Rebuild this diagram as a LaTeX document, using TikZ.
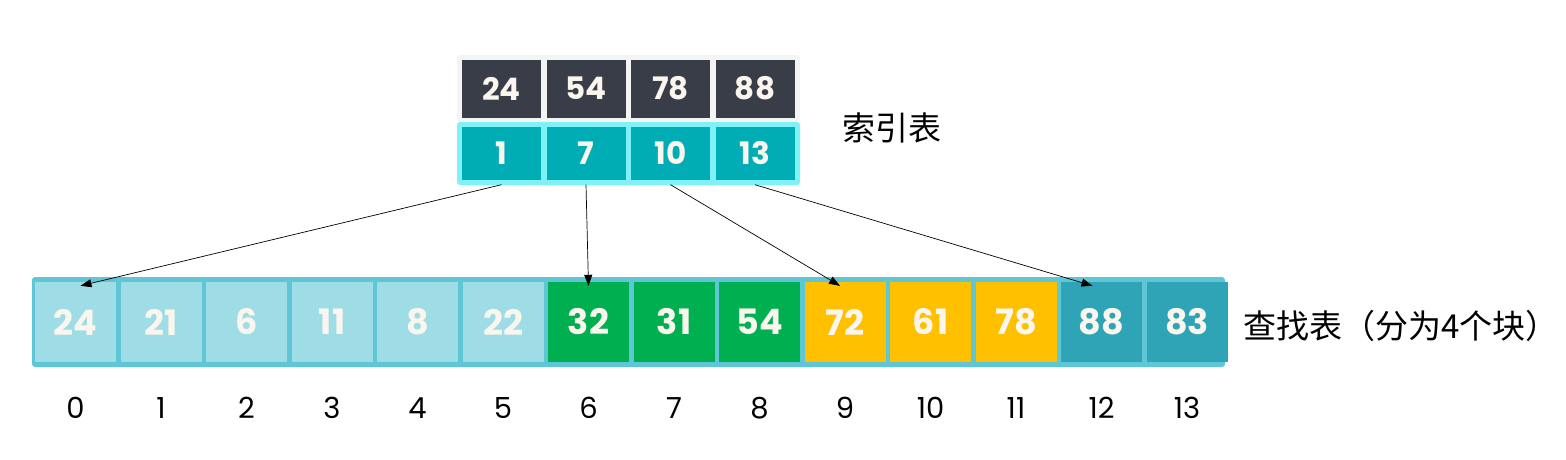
\documentclass[tikz,border=0pt]{standalone}
\usepackage{fontspec}
\setmainfont{Poppins}
\newfontfamily\cjk{Noto Sans CJK SC}
\usetikzlibrary{arrows.meta}
\definecolor{lightcell}{HTML}{9EDDE6}
\definecolor{frameblue}{HTML}{5FC6D5}
\definecolor{greencell}{HTML}{00B050}
\definecolor{yellowcell}{HTML}{FFC000}
\definecolor{tealcell}{HTML}{2EA4B6}
\definecolor{darkcell}{HTML}{393D47}
\definecolor{cyancell}{HTML}{00ADB5}
\definecolor{cyanframe}{HTML}{7EF2F7}
\definecolor{grayframe}{HTML}{F4F4F4}
\definecolor{numtext}{HTML}{FAF6EE}
\tikzset{
  cellbox/.style={minimum width=81pt, minimum height=80pt, inner sep=0pt,
    text=numtext, font=\bfseries\fontsize{35}{37}\selectfont},
  keybox/.style={fill=darkcell, minimum width=79pt, minimum height=58pt, inner sep=0pt,
    text=numtext, font=\bfseries\fontsize{31}{33}\selectfont},
  idxbox/.style={fill=cyancell, minimum width=79pt, minimum height=53pt, inner sep=0pt,
    text=numtext, font=\bfseries\fontsize{31}{33}\selectfont},
  poslabel/.style={font=\fontsize{29}{31}\selectfont, inner sep=0pt},
  cjklabel/.style={font=\cjk\fontsize{33}{35}\selectfont, inner sep=0pt, anchor=west},
  link/.style={-{Triangle[length=11pt,width=8pt]}, line width=0.7pt, black}
}
\begin{document}
\begin{tikzpicture}[x=1pt,y=-1pt]
\useasboundingbox (0,0) rectangle (1566,459);
% frames
\fill[frameblue, rounded corners=3pt] (32,277) rectangle (1225,367);
\fill[grayframe, rounded corners=3pt] (457,55) rectangle (800,122);
\fill[cyanframe, rounded corners=3pt] (457,122) rectangle (800,185);
% bottom cells
\foreach \v [count=\i from 0] in {24,21,6,11,8,22}
  \node[cellbox, fill=lightcell] (c\i) at (75.5+85.5*\i,322) {\v};
\foreach \v [count=\i from 6] in {32,31,54}
  \node[cellbox, fill=greencell] (c\i) at (75.5+85.5*\i,322) {\v};
\foreach \v [count=\i from 9] in {72,61,78}
  \node[cellbox, fill=yellowcell] (c\i) at (75.5+85.5*\i,322) {\v};
\foreach \v [count=\i from 12] in {88,83}
  \node[cellbox, fill=tealcell] (c\i) at (75.5+85.5*\i,322) {\v};
% position labels
\foreach \i in {0,...,13}
  \node[poslabel] (p\i) at (75.5+85.5*\i,408) {\i};
% index table
\foreach \v [count=\j from 0] in {24,54,78,88}
  \node[keybox] (k\j) at (501.5+84.5*\j,88.5) {\v};
\foreach \v [count=\j from 0] in {1,7,10,13}
  \node[idxbox] (i\j) at (501.5+84.5*\j,153) {\v};
% labels
\node[cjklabel] (lidx) at (842,128) {索引表};
\node[cjklabel] (lsrch) at (1243,326) {查找表（分为4个块）};
% links
\draw[link] ([yshift=-5pt]i0.south) -- ([xshift=5pt,yshift=-4pt]c0.north);
\draw[link] ([yshift=-5pt]i1.south) -- ([yshift=-4pt]c6.north);
\draw[link] ([yshift=-5pt]i2.south) -- ([xshift=-5pt,yshift=-4pt]c9.north);
\draw[link] ([yshift=-5pt]i3.south) -- ([xshift=-9pt,yshift=-4pt]c12.north);
\end{tikzpicture}
\end{document}
